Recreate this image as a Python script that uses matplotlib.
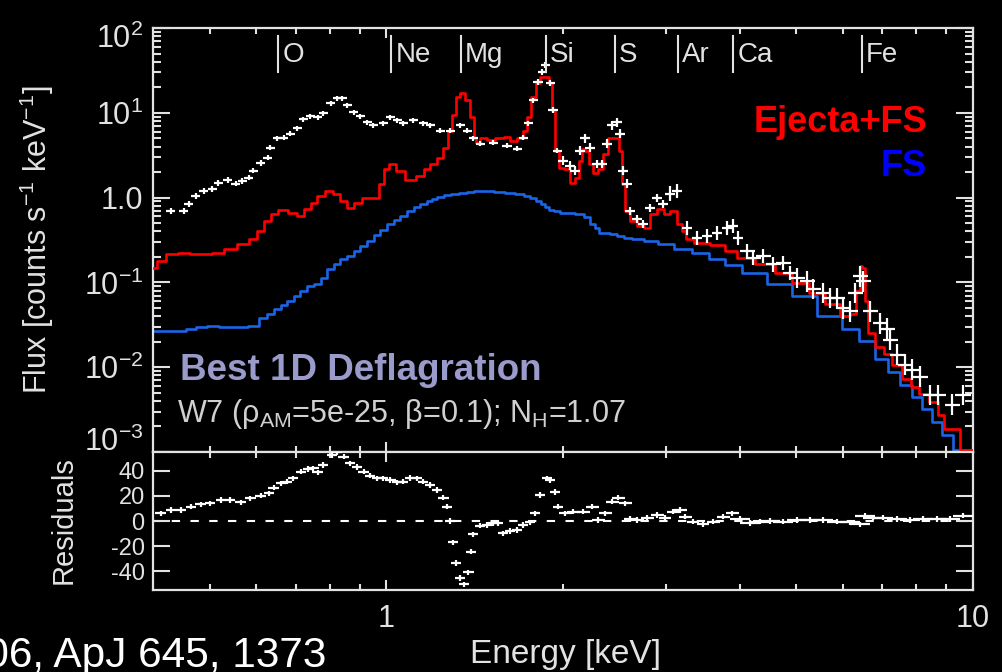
import numpy as np
import matplotlib
matplotlib.use("Agg")
import matplotlib.pyplot as plt
import matplotlib.transforms as mtransforms
from matplotlib.ticker import FixedLocator, NullFormatter, LogLocator

plt.rcParams["font.family"] = ["Liberation Sans", "DejaVu Sans"]
plt.rcParams["mathtext.default"] = "regular"
plt.rcParams["axes.unicode_minus"] = False

# Modelo só da onda de choque frontal (FS)
fs_energy = [0.401, 0.420, 0.446, 0.464, 0.482, 0.505, 0.532, 0.564, 0.598, 0.617,
             0.634, 0.652, 0.668, 0.686, 0.705, 0.722, 0.742, 0.763, 0.781, 0.803,
             0.825, 0.845, 0.868, 0.892, 0.914, 0.939, 0.965, 0.988, 1.016, 1.044,
             1.069, 1.099, 1.129, 1.156, 1.188, 1.202, 1.236, 1.270, 1.311, 1.353,
             1.390, 1.429, 1.486, 1.564, 1.626, 1.692, 1.739, 1.780, 1.815, 1.851,
             1.881, 1.903, 1.956, 2.002, 2.058, 2.140, 2.200, 2.252, 2.288, 2.315,
             2.379, 2.436, 2.504, 2.574, 2.677, 2.817, 2.987, 3.206, 3.427, 3.664,
             3.901, 4.170, 4.746, 5.073, 5.775, 6.173, 6.598, 7.025, 7.307, 7.720,
             8.029, 8.350, 8.685, 9.031, 9.428, 9.806, 10.0]
fs_flux = [0.0264, 0.0264, 0.0264, 0.0279, 0.030, 0.031, 0.0294, 0.0294, 0.031, 0.0377,
           0.042, 0.0481, 0.0537, 0.0598, 0.0686, 0.0787, 0.090, 0.0953, 0.112, 0.143,
           0.164, 0.188, 0.204, 0.234, 0.268, 0.308, 0.362, 0.415, 0.49, 0.546,
           0.608, 0.698, 0.778, 0.845, 0.917, 0.968, 1.03, 1.08, 1.11, 1.14,
           1.17, 1.20, 1.20, 1.17, 1.14, 1.11, 1.05, 0.995, 0.917, 0.845,
           0.778, 0.716, 0.698, 0.66, 0.66, 0.643, 0.592, 0.49, 0.439, 0.383,
           0.383, 0.372, 0.352, 0.334, 0.325, 0.308, 0.284, 0.247, 0.222, 0.188,
           0.160, 0.1285, 0.0953, 0.0686, 0.0398, 0.0279, 0.0201, 0.01265, 0.00887, 0.00622,
           0.00449, 0.00323, 0.00226, 0.00159, 0.00106, 0.00106, 0.00106]

# Modelo total: ejecta + FS
model_energy = [0.401, 0.412, 0.430, 0.451, 0.473, 0.4915, 0.517, 0.542, 0.571, 0.593,
                0.610, 0.627, 0.642, 0.665, 0.692, 0.714, 0.734, 0.751, 0.772, 0.797,
                0.822, 0.845, 0.868, 0.896, 0.921, 0.958, 0.981, 1.000, 1.024, 1.056,
                1.099, 1.143, 1.174, 1.202, 1.236, 1.260, 1.285, 1.300, 1.327, 1.347,
                1.374, 1.401, 1.418, 1.429, 1.463, 1.504, 1.564, 1.607, 1.646, 1.692,
                1.725, 1.746, 1.780, 1.815, 1.844, 1.881, 1.903, 1.925, 1.956, 1.979,
                2.034, 2.083, 2.115, 2.140, 2.166, 2.200, 2.226, 2.270, 2.315, 2.361,
                2.408, 2.475, 2.504, 2.534, 2.574, 2.635, 2.708, 2.784, 2.850, 2.929,
                3.011, 3.083, 3.169, 3.206, 3.270, 3.427, 3.707, 3.855, 4.057, 4.457,
                4.746, 5.073, 5.423, 5.775, 6.101, 6.246, 6.370, 6.445, 6.496, 6.572,
                6.676, 6.943, 7.137, 7.423, 7.720, 7.966, 8.220, 8.617, 8.787, 9.031,
                9.392, 9.616, 10.0]
model_flux = [0.147, 0.178, 0.216, 0.222, 0.216, 0.216, 0.222, 0.247, 0.284, 0.325,
              0.404, 0.531, 0.643, 0.716, 0.66, 0.608, 0.736, 0.867, 1.05, 1.20,
              1.11, 0.917, 0.757, 0.867, 0.995, 0.995, 1.46, 2.19, 2.51, 2.08,
              1.62, 1.81, 2.19, 2.51, 2.96, 3.89, 6.18, 9.31, 15.2, 17.0,
              14.0, 8.81, 5.11, 4.46, 5.11, 4.84, 4.98, 5.25, 4.71, 4.98,
              6.18, 8.81, 15.2, 22.3, 26.3, 26.3, 22.3, 10.7, 3.59, 2.25,
              2.19, 1.50, 1.72, 2.73, 3.79, 3.59, 2.51, 1.97, 2.19, 3.30,
              4.98, 4.98, 3.59, 1.46, 0.698, 0.531, 0.463, 0.439, 0.643, 0.736,
              0.643, 0.698, 0.49, 0.404, 0.325, 0.291, 0.276, 0.234, 0.194, 0.164,
              0.1285, 0.098, 0.0745, 0.0552, 0.0398, 0.042, 0.0787, 0.156, 0.147, 0.0598,
              0.025, 0.0175, 0.0145, 0.0107, 0.00733, 0.00589, 0.00486, 0.00391, 0.00274, 0.00187,
              0.00187, 0.00106, 0.00106]

# Espectro observado
data_energy = [0.4286, 0.451, 0.460, 0.473, 0.488, 0.505, 0.517, 0.536, 0.553, 0.568,
               0.582, 0.593, 0.610, 0.627, 0.634, 0.652, 0.668, 0.686, 0.705, 0.722,
               0.742, 0.763, 0.781, 0.803, 0.825, 0.841, 0.858, 0.879, 0.903, 0.928,
               0.950, 0.988, 1.016, 1.044, 1.069, 1.112, 1.156, 1.188, 1.236, 1.285,
               1.337, 1.374, 1.407, 1.446, 1.522, 1.607, 1.672, 1.712, 1.746, 1.780,
               1.815, 1.844, 1.866, 1.903, 1.925, 1.956, 2.002, 2.058, 2.099, 2.140,
               2.183, 2.226, 2.288, 2.333, 2.379, 2.427, 2.475, 2.504, 2.534, 2.574,
               2.604, 2.677, 2.740, 2.817, 2.895, 2.964, 3.046, 3.132, 3.257, 3.387,
               3.523, 3.664, 3.810, 3.901, 3.978, 4.121, 4.219, 4.387, 4.563, 4.746,
               4.877, 5.013, 5.214, 5.338, 5.553, 5.707, 5.867, 6.006, 6.173, 6.295,
               6.420, 6.496, 6.676, 6.943, 7.137, 7.222, 7.423, 7.659, 7.873, 8.124,
               8.449, 8.719, 9.210, 9.616]
data_flux = [0.698, 0.698, 0.845, 1.05, 1.20, 1.27, 1.50, 1.62, 1.46, 1.58,
             1.72, 2.08, 2.58, 2.96, 3.89, 4.98, 5.11, 5.70, 6.53, 8.35,
             9.06, 8.81, 9.84, 12.9, 14.8, 14.8, 12.2, 10.1, 9.06, 7.69,
             7.09, 7.48, 8.81, 8.13, 7.48, 8.13, 7.48, 7.09, 6.18, 6.18,
             7.09, 6.18, 4.98, 4.34, 4.46, 4.11, 3.79, 5.11, 7.48, 14.0,
             22.9, 30.1, 36.5, 22.3, 10.7, 3.59, 2.73, 2.38, 2.08, 3.59,
             4.98, 3.89, 2.51, 2.51, 4.34, 7.09, 7.69, 5.70, 2.08, 1.46,
             0.698, 0.561, 0.49, 0.757, 0.995, 0.845, 1.11, 1.20, 0.439, 0.334,
             0.352, 0.383, 0.439, 0.463, 0.334, 0.234, 0.194, 0.204, 0.164, 0.169,
             0.1285, 0.112, 0.103, 0.083, 0.0745, 0.065, 0.065, 0.0494, 0.0456, 0.0745,
             0.118, 0.103, 0.0456, 0.0329, 0.0286, 0.0212, 0.0141, 0.0107, 0.00937, 0.00774,
             0.00473, 0.00473, 0.00361, 0.00473]

# Resíduos (dados - modelo) / sigma
resid_energy = [0.412, 0.4286, 0.446, 0.4636, 0.482, 0.501, 0.5215, 0.542, 0.564, 0.5865,
                0.610, 0.630, 0.642, 0.660, 0.678, 0.694, 0.714, 0.734, 0.751, 0.763,
                0.781, 0.809, 0.825, 0.845, 0.868, 0.892, 0.914, 0.939, 0.965, 0.988,
                1.016, 1.044, 1.069, 1.099, 1.129, 1.156, 1.188, 1.221, 1.251, 1.270,
                1.285, 1.300, 1.316, 1.337, 1.358, 1.380, 1.396, 1.407, 1.446, 1.486,
                1.522, 1.551, 1.582, 1.626, 1.672, 1.712, 1.759, 1.794, 1.829, 1.881,
                1.903, 1.941, 1.963, 2.018, 2.083, 2.166, 2.244, 2.297, 2.361, 2.427,
                2.485, 2.554, 2.604, 2.677, 2.784, 2.895, 2.987, 3.083, 3.169, 3.232,
                3.334, 3.467, 3.607, 3.752, 3.886, 4.010, 4.170, 4.336, 4.510, 4.746,
                5.013, 5.276, 5.553, 5.867, 6.173, 6.420, 6.546, 6.755, 7.025, 7.423,
                7.811, 8.220, 8.685, 9.138, 9.616]
resid_value = [6.1, 8.7, 8.7, 11.4, 13.2, 14.0, 16.6, 16.6, 14.8, 18.0,
               20.1, 21.9, 26.4, 29.8, 31.2, 33.8, 39.1, 41.2, 41.7, 38.5,
               44.4, 52.3, 54.4, 51.0, 45.7, 43.0, 39.1, 35.9, 33.8, 33.8,
               32.5, 30.6, 31.2, 34.3, 33.8, 31.2, 28.5, 24.6, 18.5, 11.4,
               0.0, -16.9, -33.5, -45.4, -50.2, -40.7, -24.3, -10.6, -3.7, -3.2,
               -1.8, -1.8, -9.8, -7.9, -7.1, -3.2, -1.1, 6.1, 20.6, 33.8,
               32.5, 23.2, 11.4, 6.1, 7.4, 7.4, 11.4, 0.8, 6.1, 15.3,
               18.5, 14.0, 1.6, 0.8, 2.6, 4.8, 2.6, 7.4, 8.7, 3.4,
               -0.5, -2.6, -0.5, 3.4, 6.1, 1.6, -1.8, -0.5, 0.0, -0.5,
               0.8, 0.8, 0.8, -0.5, -1.1, -2.6, 4.2, 2.6, 2.6, 1.6,
               0.8, 1.6, 1.6, 1.6, 4.2]

# Linhas de emissão identificadas
line_names = ["O", "Ne", "Mg", "Si", "S", "Ar", "Ca", "Fe"]
line_energy = [0.654, 1.02, 1.34, 1.87, 2.45, 3.14, 3.90, 6.47]

FG = "#e2e2e2"
RED = "#ff0000"
BLUE = "#1a64e8"

fig = plt.figure(figsize=(10.03, 6.72), dpi=100, facecolor="black")
ax = fig.add_axes([153 / 1003, 220 / 672, 820 / 1003, 424 / 672])
axr = fig.add_axes([153 / 1003, 82 / 672, 820 / 1003, 138 / 672], sharex=ax)

for a in (ax, axr):
    a.set_facecolor("black")
    for s in a.spines.values():
        s.set_color(FG)
        s.set_linewidth(1.6)

# barras de erro: meia largura do canal e erro relativo do fluxo
E = np.asarray(data_energy)
F = np.asarray(data_flux)
half = np.where(E < 2, 0.019, np.where(E < 4, 0.02, 0.03))
rel = np.where(E < 2, 0.08, np.where(E < 3, 0.12, np.where(E < 5, 0.22, 0.32)))
xerr = [E - E / (1 + half), E * half]
yerr = [F - F / (1 + rel), F * rel]

ax.step(fs_energy, fs_flux, where="mid", color=BLUE, lw=1.9, zorder=2)
ax.step(model_energy, model_flux, where="mid", color=RED, lw=1.9, zorder=3)
ax.errorbar(E, F, xerr=xerr, yerr=yerr, fmt="none", ecolor="white",
            elinewidth=1.6, capsize=0, zorder=4)

ax.set_xscale("log")
ax.set_yscale("log")
ax.set_xlim(0.4, 10)
ax.set_ylim(1e-3, 1e2)

ax.yaxis.set_major_locator(FixedLocator([1e-3, 1e-2, 1e-1, 1, 10, 100]))
ax.set_yticklabels([r"$10^{-3}$", r"$10^{-2}$", r"$10^{-1}$", "1.0",
                    r"$10^{1}$", r"$10^{2}$"])
ax.yaxis.set_minor_locator(LogLocator(base=10, subs=np.arange(2, 10)))
ax.yaxis.set_minor_formatter(NullFormatter())

xminor = [0.5, 0.6, 0.7, 0.8, 0.9, 2, 3, 4, 5, 6, 7, 8, 9]
for a in (ax, axr):
    a.xaxis.set_major_locator(FixedLocator([1, 10]))
    a.xaxis.set_minor_locator(FixedLocator(xminor))
    a.xaxis.set_minor_formatter(NullFormatter())
    a.tick_params(axis="x", which="major", direction="in", top=True, bottom=True,
                  length=7, width=1.5, color=FG)
    a.tick_params(axis="x", which="minor", direction="in", top=True, bottom=True,
                  length=4, width=1.5, color=FG)
    a.tick_params(axis="y", which="major", direction="in", left=True, right=True,
                  length=12, width=1.5, color=FG)
    a.tick_params(axis="y", which="minor", direction="in", left=True, right=True,
                  length=6, width=1.5, color=FG)

ax.tick_params(axis="x", labelbottom=False)
ax.tick_params(axis="y", labelsize=22, labelcolor=FG, pad=7)

# rótulos extremos do eixo y puxados para dentro do painel
yt = ax.yaxis.get_major_ticks()
for tk, dy in ((yt[0], 13), (yt[-1], -8)):
    off = mtransforms.ScaledTranslation(0, dy / 100, fig.dpi_scale_trans)
    tk.label1.set_transform(tk.label1.get_transform() + off)

# painel de resíduos
R = np.asarray(resid_energy)
rhalf = np.where(R < 2, 0.02, np.where(R < 4, 0.025, 0.04))
axr.axhline(0, color="white", lw=1.5, ls=(0, (4, 5)), zorder=1)
axr.errorbar(R, resid_value, xerr=[R - R / (1 + rhalf), R * rhalf], yerr=2.2,
             fmt="none", ecolor="white", elinewidth=1.6, capsize=0, zorder=3)
axr.set_ylim(-54.7, 54.7)
axr.yaxis.set_major_locator(FixedLocator([-40, -20, 0, 20, 40]))
axr.tick_params(axis="y", labelsize=17, labelcolor=FG, pad=6)
axr.set_xticklabels(["1", "10"])
axr.tick_params(axis="x", labelsize=22, labelcolor=FG, pad=10)

# marcadores das linhas de emissão
trans = mtransforms.blended_transform_factory(ax.transData, ax.transAxes)
for name, en in zip(line_names, line_energy):
    ax.plot([en, en], [0.896, 0.981], color=FG, lw=1.5, transform=trans,
            clip_on=False, zorder=5)
    ax.annotate(name, xy=(en, 0.92), xycoords=trans, xytext=(3, 0),
                textcoords="offset points", ha="left", va="baseline",
                fontsize=20, color=FG)

ax.text(0.944, 0.755, "Ejecta+FS", transform=ax.transAxes, ha="right",
        va="baseline", fontsize=26, fontweight="bold", color=RED)
ax.text(0.944, 0.651, "FS", transform=ax.transAxes, ha="right",
        va="baseline", fontsize=26, fontweight="bold", color="#0000ff")
ax.text(0.033, 0.170, "Best 1D Deflagration", transform=ax.transAxes,
        ha="left", va="baseline", fontsize=26.5, fontweight="bold",
        color="#9a9acb")
ax.text(0.029, 0.071,
        r"W7 ($\rho_{AM}$=5e-25, $\beta$=0.1); N$_{H}$=1.07",
        transform=ax.transAxes, ha="left", va="baseline", fontsize=22,
        color="#d0d0d0")

fig.text(37 / 1003, 1 - 240 / 672, r"Flux [counts s$^{-1}$ keV$^{-1}$]",
         rotation=90, ha="center", va="center", fontsize=22, color=FG)
fig.text(64 / 1003, 1 - 520 / 672, "Residuals", rotation=90, ha="center",
         va="center", fontsize=21, color=FG)
fig.text(565 / 1003, 1 - 655 / 672, "Energy [keV]", ha="center",
         va="center", fontsize=24, color=FG)
fig.text(326 / 1003, 1 - 667 / 672, "Badenes et al. 2006, ApJ 645, 1373",
         ha="right", va="baseline", fontsize=30.5, color="white")

fig.savefig("out.png", dpi=100, facecolor="black")
